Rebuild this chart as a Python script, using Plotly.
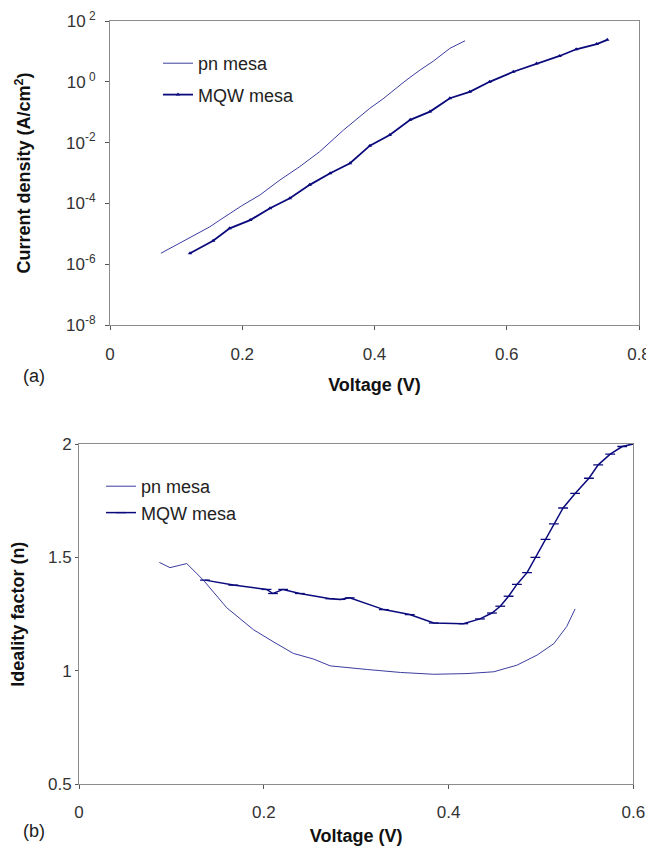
import plotly.graph_objects as go

# ---- (a) Current density vs voltage (log10 of A/cm^2) ----
pn_a_v = [0.077, 0.106, 0.151, 0.166, 0.199, 0.227, 0.257, 0.287, 0.317, 0.353, 0.393, 0.413, 0.446, 0.469, 0.489, 0.514, 0.537]
pn_a_log = [-5.64, -5.31, -4.77, -4.55, -4.08, -3.72, -3.23, -2.79, -2.30, -1.59, -0.87, -0.56, 0.02, 0.39, 0.68, 1.10, 1.35]
mqw_a_v = [0.121, 0.156, 0.181, 0.212, 0.242, 0.272, 0.302, 0.333, 0.363, 0.393, 0.423, 0.454, 0.484,
           0.514, 0.544, 0.574, 0.610, 0.645, 0.680, 0.705, 0.736, 0.752]
mqw_a_log = [-5.64, -5.23, -4.82, -4.55, -4.16, -3.83, -3.39, -3.01, -2.68, -2.10, -1.75, -1.25, -0.98,
             -0.54, -0.33, 0.00, 0.33, 0.60, 0.85, 1.07, 1.24, 1.38]
pn_a_j = [10 ** v for v in pn_a_log]
mqw_a_j = [10 ** v for v in mqw_a_log]

# ---- (b) Ideality factor vs voltage ----
pn_b_v = [0.087, 0.0985, 0.1166, 0.1346, 0.160, 0.189, 0.210, 0.232, 0.254, 0.272, 0.312, 0.348, 0.384, 0.420, 0.449, 0.474, 0.496, 0.514, 0.528, 0.537]
pn_b_n = [1.478, 1.455, 1.473, 1.400, 1.278, 1.181, 1.129, 1.077, 1.052, 1.022, 1.006, 0.993, 0.985, 0.988, 0.996, 1.025, 1.070, 1.120, 1.196, 1.273]
mqw_b_v = [0.1364, 0.167, 0.203, 0.210, 0.221, 0.239, 0.272, 0.283, 0.293, 0.330, 0.358, 0.384, 0.416, 0.434, 0.447, 0.456, 0.465, 0.474, 0.485, 0.494, 0.505, 0.514, 0.524, 0.537, 0.552, 0.562, 0.575, 0.588, 0.600]
mqw_b_n = [1.400, 1.378, 1.359, 1.341, 1.359, 1.341, 1.318, 1.315, 1.322, 1.270, 1.248, 1.211, 1.208, 1.229, 1.255, 1.285, 1.329, 1.381, 1.433, 1.500, 1.580, 1.648, 1.718, 1.782, 1.849, 1.908, 1.955, 1.989, 2.000]

y_a_ticks = [1e-8, 1e-6, 1e-4, 1e-2, 1, 100]
y_a_text = ["10<sup>-8</sup>", "10<sup>-6</sup>", "10<sup>-4</sup>", "10<sup>-2</sup>", "10<sup> 0</sup>", "10<sup> 2</sup>"]
x_a_ticks = [0, 0.2, 0.4, 0.6, 0.8]
x_a_text = ["0", "0.2", "0.4", "0.6", "0.8"]
x_b_ticks = [0, 0.2, 0.4, 0.6]
x_b_text = ["0", "0.2", "0.4", "0.6"]
y_b_ticks = [0.5, 1, 1.5, 2]
y_b_text = ["0.5", "1", "1.5", "2"]

# page has an 8px body margin; figure is sized/positioned to compensate
W, H, OFF = 646, 838, 8


def fx(px):
    return (px - OFF) / W


def fy(py):
    return 1 - (py - OFF) / H


PN_COLOR = "#3c3ca0"
MQW_COLOR = "#0a0a7c"
FONT = "Arial, Liberation Sans, sans-serif"
TITLE_FONT = dict(family=FONT, size=18, color="#111111")
TICK_FONT = dict(family=FONT, size=17, color="#333333")
LEG_FONT = dict(family=FONT, size=18, color="#222222")

fig = go.Figure()
fig.add_trace(go.Scatter(x=pn_a_v, y=pn_a_j, mode="lines", name="pn mesa", legendgroup="a1",
                         line=dict(color=PN_COLOR, width=1), xaxis="x", yaxis="y", legend="legend"))
fig.add_trace(go.Scatter(x=mqw_a_v, y=mqw_a_j, mode="lines+markers", name="MQW mesa", legendgroup="a2",
                         line=dict(color=MQW_COLOR, width=1.8),
                         marker=dict(symbol="triangle-up", size=4, color=MQW_COLOR),
                         xaxis="x", yaxis="y", legend="legend"))
fig.add_trace(go.Scatter(x=pn_b_v, y=pn_b_n, mode="lines", name="pn mesa", legendgroup="b1",
                         line=dict(color=PN_COLOR, width=1), xaxis="x2", yaxis="y2", legend="legend2"))
fig.add_trace(go.Scatter(x=mqw_b_v, y=mqw_b_n, mode="lines+markers", name="MQW mesa", legendgroup="b2",
                         line=dict(color=MQW_COLOR, width=1.5),
                         marker=dict(symbol="line-ew", size=7, line=dict(color=MQW_COLOR, width=1.3)),
                         xaxis="x2", yaxis="y2", legend="legend2"))

axis_common = dict(showline=True, linecolor="#8c8c8c", linewidth=1, mirror=True, automargin=False,
                   showgrid=False, zeroline=False, ticks="outside", tickcolor="#555555",
                   tickfont=TICK_FONT)

fig.update_layout(
    template="none",
    width=W, height=H,
    margin=dict(l=0, r=0, t=0, b=0),
    paper_bgcolor="white", plot_bgcolor="white",
    font=dict(family=FONT, color="#222222"),
    xaxis=dict(domain=[fx(110), fx(639)], range=[0, 0.8], tickvals=x_a_ticks,
               ticktext=x_a_text, anchor="y", ticklen=4, ticklabelstandoff=10,
               title=dict(text="<b>Voltage (V)</b>", font=TITLE_FONT, standoff=14),
               **axis_common),
    yaxis=dict(domain=[fy(325), fy(21)], type="log", range=[-8, 2],
               tickvals=y_a_ticks, ticktext=y_a_text, anchor="x", ticklen=4, ticklabelstandoff=6,
               title=dict(text="<b>Current density (A/cm<sup>2</sup>)</b>", font=TITLE_FONT, standoff=30),
               **axis_common),
    xaxis2=dict(domain=[fx(79), fx(633.3)], range=[0, 0.6], tickvals=x_b_ticks,
                ticktext=x_b_text, anchor="y2", ticklen=4, ticklabelstandoff=8,
                title=dict(text="<b>Voltage (V)</b>", font=TITLE_FONT, standoff=13),
                **axis_common),
    yaxis2=dict(domain=[fy(784.3), fy(444)], range=[0.5, 2], tickvals=y_b_ticks,
                ticktext=y_b_text, anchor="x2", ticklen=3, ticklabelstandoff=0,
                title=dict(text="<b>Ideality factor (n)</b>", font=TITLE_FONT, standoff=18),
                **axis_common),
    legend=dict(x=fx(158), y=fy(45), xanchor="left", yanchor="top",
                bgcolor="rgba(0,0,0,0)", font=LEG_FONT, tracegroupgap=5, itemwidth=30),
    legend2=dict(x=fx(101), y=fy(468), xanchor="left", yanchor="top",
                 bgcolor="rgba(0,0,0,0)", font=LEG_FONT, tracegroupgap=0, itemwidth=30),
    showlegend=True,
    annotations=[
        dict(text="(a)", x=fx(21), y=fy(376), xref="paper", yref="paper",
             xanchor="left", yanchor="middle", showarrow=False, font=LEG_FONT),
        dict(text="(b)", x=fx(21), y=fy(831), xref="paper", yref="paper",
             xanchor="left", yanchor="middle", showarrow=False, font=LEG_FONT),
    ],
)

fig.write_html("out.html")
